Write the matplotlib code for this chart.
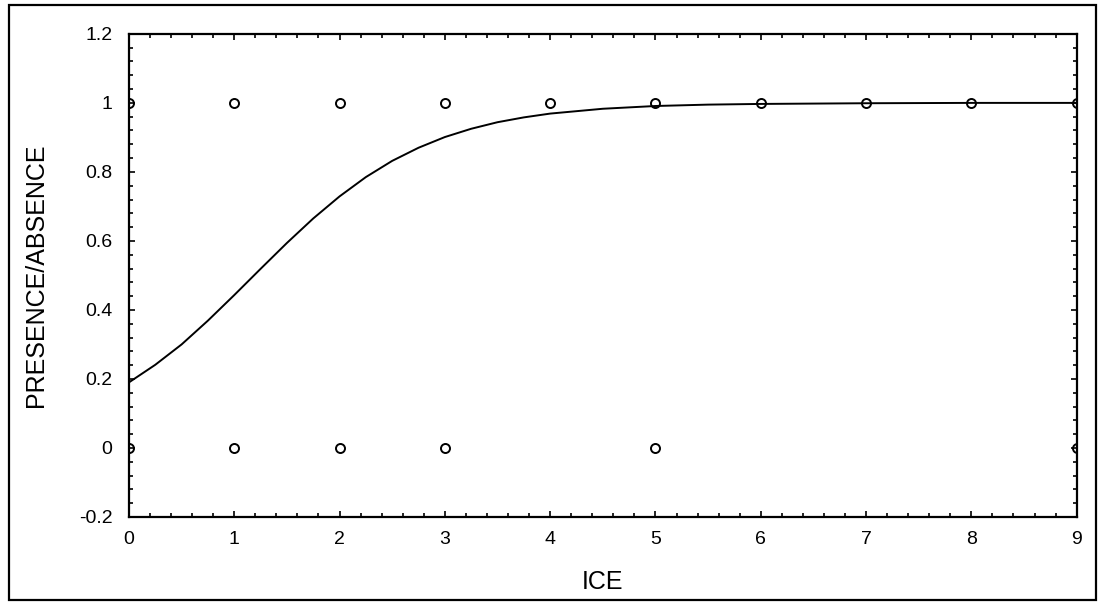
import matplotlib
matplotlib.use("Agg")
import matplotlib.pyplot as plt
from matplotlib.patches import Rectangle
from matplotlib.ticker import MultipleLocator

plt.rcParams['font.family'] = ['Liberation Sans', 'DejaVu Sans']

# observed presence/absence
obs_x = [0, 1, 2, 3, 4, 5, 6, 7, 8, 9, 0, 1, 2, 3, 5, 9]
obs_y = [1, 1, 1, 1, 1, 1, 1, 1, 1, 1, 0, 0, 0, 0, 0, 0]

# fitted curve
curve_x = [0, 0.25, 0.5, 0.75, 1.0, 1.25, 1.5, 1.75, 2.0, 2.25, 2.5, 2.75,
           3.0, 3.25, 3.5, 3.75, 4.0, 4.5, 5.0, 5.5, 6.0, 7.0, 8.0, 9.0]
curve_y = [0.19, 0.241, 0.300, 0.369, 0.443, 0.519, 0.594, 0.665, 0.729,
           0.785, 0.832, 0.870, 0.901, 0.925, 0.944, 0.958, 0.969, 0.983,
           0.991, 0.995, 0.997, 0.999, 1.0, 1.0]

fig = plt.figure(figsize=(11.02, 6.05), dpi=100)
ax = fig.add_axes([0.117, 0.1455, 0.86, 0.7985])

ax.plot(curve_x, curve_y, color='black', linewidth=1.4, zorder=3)
ax.plot(obs_x, obs_y, linestyle='none', marker='o', markersize=6.5,
        markerfacecolor='none', markeredgecolor='black', markeredgewidth=1.4,
        zorder=4, clip_on=True)

ax.set_xlim(0, 9)
ax.set_ylim(-0.2, 1.2)
ax.xaxis.set_major_locator(MultipleLocator(1))
ax.xaxis.set_minor_locator(MultipleLocator(0.2))
ax.yaxis.set_minor_locator(MultipleLocator(0.04))
ax.set_yticks([-0.2, 0, 0.2, 0.4, 0.6, 0.8, 1.0, 1.2])
ax.set_yticklabels(['-0.2', '0', '0.2', '0.4', '0.6', '0.8', '1', '1.2'])

ax.tick_params(which='both', direction='in', top=True, right=True,
               labelsize=14, width=1.2)
ax.tick_params(axis='x', pad=10)
ax.tick_params(axis='y', pad=12)
ax.tick_params(which='major', length=4)
ax.tick_params(which='minor', length=3)
for s in ax.spines.values():
    s.set_linewidth(1.6)

ax.set_xlabel('ICE', fontsize=18, labelpad=16)
ax.set_ylabel('PRESENCE/ABSENCE', fontsize=18, labelpad=22)

# outer frame around the whole figure
fig.patches.append(Rectangle((0.008, 0.008), 0.987, 0.983, transform=fig.transFigure,
                             fill=False, edgecolor='black', linewidth=1.6))

fig.savefig('out.png', dpi=100)
